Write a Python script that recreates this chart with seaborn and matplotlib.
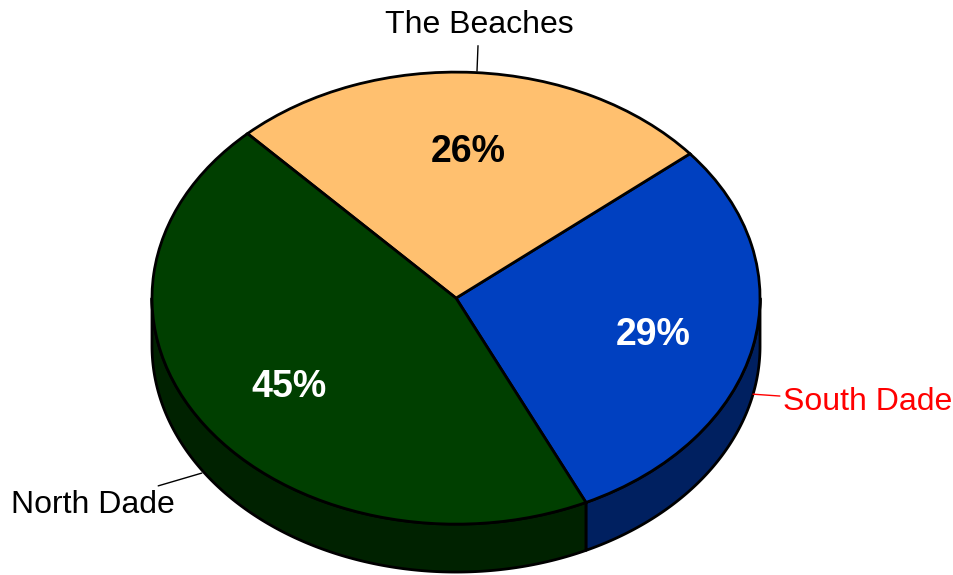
import numpy as np
import matplotlib
matplotlib.use("Agg")
import matplotlib.pyplot as plt
import seaborn as sns

# data
regions = ["South Dade", "The Beaches", "North Dade"]
shares = [29, 26, 45]
top_colors = ["#0040C0", "#FFC06F", "#003F00"]
wall_colors = ["#002060", "#FFC06F", "#002200"]
pct_colors = ["white", "black", "white"]
start_angle = -64.7
depth = 0.212

sns.set_theme(style="white")
plt.rcParams["font.family"] = ["Liberation Sans", "DejaVu Sans"]

fig = plt.figure(figsize=(9.54, 5.75), dpi=100)
ax = fig.add_axes([0, 0, 1, 1])

# side walls (only front half, sin < 0, is visible)
bounds = start_angle + np.concatenate([[0], np.cumsum(shares)]) * 3.6
for i in range(len(shares)):
    a1, a2 = bounds[i], bounds[i + 1]
    for off in (0, -360, 360):
        lo = max(a1, 180 + off)
        hi = min(a2, 360 + off)
        if hi > lo:
            t = np.radians(np.linspace(lo, hi, 200))
            xs = np.concatenate([np.cos(t), np.cos(t[::-1])])
            ys = np.concatenate([np.sin(t), np.sin(t[::-1]) - depth])
            ax.fill(xs, ys, facecolor=wall_colors[i], edgecolor="black",
                    linewidth=2, zorder=1, joinstyle="round")

wedges, texts, autotexts = ax.pie(
    shares, startangle=start_angle, colors=top_colors, radius=1,
    autopct="%d%%", pctdistance=0.665,
    wedgeprops=dict(edgecolor="black", linewidth=2),
    textprops=dict(fontsize=27, fontweight="bold"),
)
for w in wedges:
    w.set_zorder(2)
for t, c in zip(autotexts, pct_colors):
    t.set_color(c)
    t.set_zorder(3)
    t.set_va("center_baseline")

ax.set_aspect("auto")
ax.set_xlim(-1.5, 1.638)
ax.set_ylim(-1.225, 1.319)
ax.axis("off")

# outer labels with leader lines
ax.annotate(regions[1], xy=(0.069, 1.004), xytext=(0.075, 1.21),
            ha="center", va="center", fontsize=23, color="black",
            arrowprops=dict(arrowstyle="-", color="black", lw=1,
                            shrinkA=2, shrinkB=0))
ax.annotate(regions[0], xy=(0.977, -0.425), xytext=(1.076, -0.46),
            ha="left", va="center", fontsize=23, color="red",
            arrowprops=dict(arrowstyle="-", color="red", lw=1,
                            shrinkA=0, shrinkB=0))
ax.annotate(regions[2], xy=(-0.836, -0.774), xytext=(-0.924, -0.915),
            ha="right", va="center", fontsize=23, color="black",
            arrowprops=dict(arrowstyle="-", color="black", lw=1,
                            shrinkA=2, shrinkB=0))

fig.savefig("out.png", dpi=100, facecolor="white")
